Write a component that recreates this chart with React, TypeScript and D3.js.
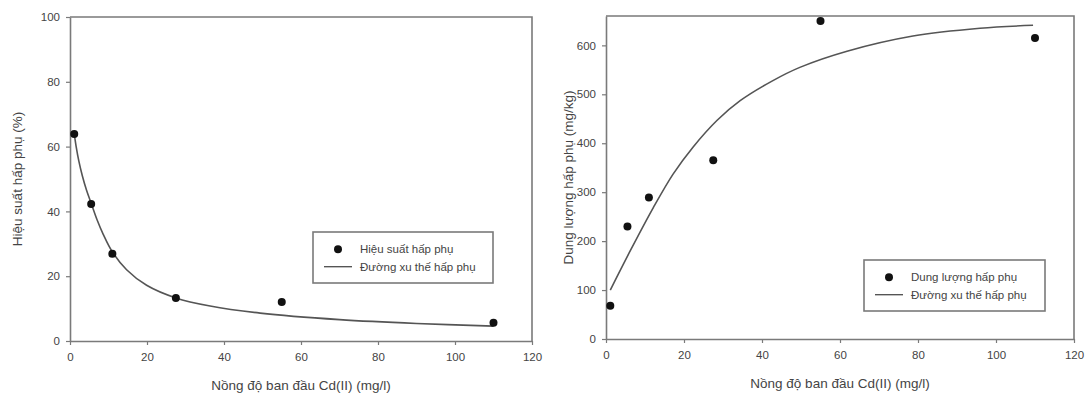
import React, { useEffect, useRef } from 'react';
import * as d3 from 'd3';

// Initial Cd(II) concentration (mg/l) of each experiment
const concentrations = [1.1, 5.5, 11, 27.5, 55, 110];

// Left panel: adsorption efficiency (%)
const efficiency = [63.9, 42.3, 26.9, 13.3, 12.0, 5.6];
const efficiencyTrendX = [1.1, 1.6, 2.3, 3.2, 4.3, 5.5, 7, 8.6, 11, 14.7, 19.9, 27.5, 36.4, 49.4, 70, 90, 110];
const efficiencyTrendY = [64, 60, 55.5, 51, 46.5, 42.5, 37.5, 33, 27.5, 22, 17.2, 13.3, 10.8, 8.6, 6.6, 5.4, 4.6];

// Right panel: adsorption capacity (mg/kg)
const capacity = [68, 230, 289, 365, 650, 615];
const capacityTrendX = [1.1, 6.4, 12.1, 17.2, 22.3, 28.5, 34.4, 42.8, 49.7, 61.8, 78.7, 95.9, 109.5];
const capacityTrendY = [100, 183, 268, 337, 392, 447, 487, 528, 555, 588, 619, 635, 641];

const xTicks = [0, 20, 40, 60, 80, 100, 120];
const efficiencyTicks = [0, 20, 40, 60, 80, 100];
const capacityTicks = [0, 100, 200, 300, 400, 500, 600];

const xTitle = 'Nồng độ ban đầu Cd(II) (mg/l)';
const trendLabel = 'Đường xu thế hấp phụ';

interface PanelProps {
  xs: number[];
  ys: number[];
  trendX: number[];
  trendY: number[];
  yMax: number;
  yTicks: number[];
  yTitle: string;
  pointLabel: string;
  left: number;
  right: number;
  top: number;
  bottom: number;
  titleX: number;
  legendBox: { x0: number; y0: number; x1: number; y1: number };
}

const FONT = '"Liberation Sans", Arial, sans-serif';
const AXIS = '#7a7a7a';
const TEXT = '#444';

const Panel: React.FC<PanelProps> = (p) => {
  const ref = useRef<SVGGElement>(null);

  useEffect(() => {
    if (!ref.current) return;
    const g = d3.select(ref.current);
    g.selectAll('*').remove();

    const x = d3.scaleLinear().domain([0, 120]).range([p.left, p.right]);
    const y = d3.scaleLinear().domain([0, p.yMax]).range([p.bottom, p.top]);

    // Frame (top and right sides)
    g.append('path')
      .attr('d', `M${p.left},${p.top}H${p.right}V${p.bottom}`)
      .attr('fill', 'none')
      .attr('stroke', AXIS)
      .attr('stroke-width', 1.6);

    // Axes
    const xAxis = g.append('g')
      .attr('transform', `translate(0,${p.bottom})`)
      .call(d3.axisBottom(x).tickValues(xTicks).tickSize(4).tickPadding(8).tickSizeOuter(0));
    const yAxis = g.append('g')
      .attr('transform', `translate(${p.left},0)`)
      .call(d3.axisLeft(y).tickValues(p.yTicks).tickSize(4).tickPadding(6).tickSizeOuter(0));

    [xAxis, yAxis].forEach(a => {
      a.select('.domain').attr('stroke', AXIS).attr('stroke-width', 1.6);
      a.selectAll('.tick line').attr('stroke', AXIS).attr('stroke-width', 1.2);
      a.selectAll('.tick text')
        .attr('fill', TEXT)
        .style('font-family', FONT)
        .style('font-size', '11.5px');
    });

    // Trend line
    const trend = p.trendX.map((v, i) => [v, p.trendY[i]] as [number, number]);
    g.append('path')
      .datum(trend)
      .attr('fill', 'none')
      .attr('stroke', '#555')
      .attr('stroke-width', 1.6)
      .attr('d', d3.line<[number, number]>()
        .x(d => x(d[0]))
        .y(d => y(d[1]))
        .curve(d3.curveCatmullRom.alpha(0.5)));

    // Measured points
    g.append('g')
      .selectAll('circle')
      .data(p.xs)
      .join('circle')
      .attr('cx', d => x(d))
      .attr('cy', (_, i) => y(p.ys[i]))
      .attr('r', 4)
      .attr('fill', '#111');

    // Axis titles
    g.append('text')
      .attr('x', (p.left + p.right) / 2)
      .attr('y', p.bottom + 49)
      .attr('text-anchor', 'middle')
      .attr('fill', TEXT)
      .style('font-family', FONT)
      .style('font-size', '13.5px')
      .text(xTitle);

    g.append('text')
      .attr('transform', `translate(${p.titleX},${(p.top + p.bottom) / 2}) rotate(-90)`)
      .attr('text-anchor', 'middle')
      .attr('dy', '0.35em')
      .attr('fill', TEXT)
      .style('font-family', FONT)
      .style('font-size', '13.5px')
      .text(p.yTitle);

    // Legend
    const lb = p.legendBox;
    const legend = g.append('g');
    legend.append('rect')
      .attr('x', lb.x0)
      .attr('y', lb.y0)
      .attr('width', lb.x1 - lb.x0)
      .attr('height', lb.y1 - lb.y0)
      .attr('fill', 'white')
      .attr('stroke', AXIS)
      .attr('stroke-width', 1.6);

    const row1 = lb.y0 + (lb.y1 - lb.y0) * 0.34;
    const row2 = lb.y0 + (lb.y1 - lb.y0) * 0.68;
    legend.append('circle')
      .attr('cx', lb.x0 + 25)
      .attr('cy', row1)
      .attr('r', 4)
      .attr('fill', '#111');
    legend.append('line')
      .attr('x1', lb.x0 + 11)
      .attr('x2', lb.x0 + 39)
      .attr('y1', row2)
      .attr('y2', row2)
      .attr('stroke', '#555')
      .attr('stroke-width', 1.4);

    [p.pointLabel, trendLabel].forEach((label, i) => {
      legend.append('text')
        .attr('x', lb.x0 + 47)
        .attr('y', i === 0 ? row1 : row2)
        .attr('dy', '0.35em')
        .attr('fill', TEXT)
        .style('font-family', FONT)
        .style('font-size', '11.5px')
        .text(label);
    });
  }, [p]);

  return <g ref={ref} />;
};

const App: React.FC = () => (
  <svg
    width={1087}
    height={401}
    style={{ position: 'absolute', left: 0, top: 0, background: 'white' }}
  >
    <Panel
      xs={concentrations}
      ys={efficiency}
      trendX={efficiencyTrendX}
      trendY={efficiencyTrendY}
      yMax={100}
      yTicks={efficiencyTicks}
      yTitle="Hiệu suất hấp phụ (%)"
      pointLabel="Hiệu suất hấp phụ"
      left={70}
      right={532}
      top={17}
      bottom={341}
      titleX={17}
      legendBox={{ x0: 313, y0: 232, x1: 493, y1: 283 }}
    />
    <Panel
      xs={concentrations}
      ys={capacity}
      trendX={capacityTrendX}
      trendY={capacityTrendY}
      yMax={660}
      yTicks={capacityTicks}
      yTitle="Dung lượng hấp phụ (mg/kg)"
      pointLabel="Dung lượng hấp phụ"
      left={606}
      right={1074}
      top={16}
      bottom={339}
      titleX={568}
      legendBox={{ x0: 864, y0: 260, x1: 1045, y1: 311 }}
    />
  </svg>
);

export default App;
